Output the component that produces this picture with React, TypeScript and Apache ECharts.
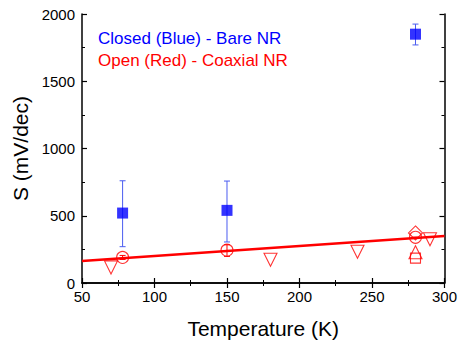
import React, { useEffect, useRef } from "react";
import * as echarts from "echarts";

const closedT = [78, 150, 280];
const closedS = [520, 540, 1850];
const closedLow = [270, 305, 1770];
const closedHigh = [760, 758, 1925];

const openCircleT = [78, 150, 280];
const openCircleS = [190, 244, 340];
const openCircleLow = [175, 198, 340];
const openCircleHigh = [205, 284, 340];
const openDownT = [70, 180, 240, 290];
const openDownS = [116, 173, 232, 325];
const openDiamondT = [280];
const openDiamondS = [372];
const openUpT = [280];
const openUpS = [229];
const openSquareT = [280];
const openSquareS = [185];

const fitT = [50, 300];
const fitS = [163, 350];

const BLUE = "#0000ff";
const RED = "#ff0000";
const DOWN = "path://M0,0 L10,0 L5,9 Z";
const FONT = "Liberation Sans, Arial, sans-serif";

const zip = (a: number[], b: number[]) => a.map((v, i) => [v, b[i]]);

function errSeries(t: number[], lo: number[], hi: number[], color: string, cap: number) {
  return {
    type: "custom",
    silent: true,
    z: 3,
    data: t.map((v, i) => [v, lo[i], hi[i]]),
    renderItem: (params: any, api: any) => {
      const x = api.value(0);
      const p1 = api.coord([x, api.value(1)]);
      const p2 = api.coord([x, api.value(2)]);
      const style = { stroke: color, lineWidth: 1 };
      return {
        type: "group",
        children: [
          { type: "line", shape: { x1: p1[0], y1: p1[1], x2: p2[0], y2: p2[1] }, style },
          { type: "line", shape: { x1: p1[0] - cap, y1: p1[1], x2: p1[0] + cap, y2: p1[1] }, style },
          { type: "line", shape: { x1: p2[0] - cap, y1: p2[1], x2: p2[0] + cap, y2: p2[1] }, style },
        ],
      };
    },
  };
}

function hollow(t: number[], s: number[], symbol: string, size: number) {
  return {
    type: "scatter",
    data: zip(t, s),
    symbol,
    symbolSize: size,
    z: 4,
    itemStyle: { color: "rgba(0,0,0,0)", borderColor: RED, borderWidth: 1.1 },
  };
}

export default function App() {
  const ref = useRef<HTMLDivElement>(null);
  useEffect(() => {
    const chart = echarts.init(ref.current!, undefined, { renderer: "svg" });
    const axisLine = { show: true, lineStyle: { color: "#000", width: 1.5 } };
    const tick = { show: true, inside: true, length: 5, lineStyle: { color: "#000", width: 1.2 } };
    const minor = { show: true, splitNumber: 2, length: 3, lineStyle: { color: "#000", width: 1 } };
    const lbl = { color: "#000", fontSize: 15, fontFamily: FONT, formatter: (v: number) => String(v) };
    chart.setOption({
      animation: false,
      backgroundColor: "#fff",
      grid: { left: 82, right: 13, top: 14, bottom: 60 },
      xAxis: [
        {
          type: "value", min: 50, max: 300, interval: 50,
          axisLine, axisTick: tick, minorTick: minor, splitLine: { show: false },
          axisLabel: { ...lbl, margin: 6 },
          name: "Temperature (K)", nameLocation: "middle", nameGap: 35,
          nameTextStyle: { color: "#000", fontSize: 21, fontFamily: FONT },
        },
        {
          type: "value", position: "top", min: 50, max: 300, interval: 50,
          axisLine, axisTick: tick, minorTick: minor, splitLine: { show: false },
          axisLabel: { show: false },
        },
      ],
      yAxis: [
        {
          type: "value", min: 0, max: 2000, interval: 500,
          axisLine, axisTick: tick, minorTick: minor, splitLine: { show: false },
          axisLabel: { ...lbl, margin: 7 },
          name: "S (mV/dec)", nameLocation: "middle", nameGap: 42,
          nameTextStyle: { color: "#000", fontSize: 21, fontFamily: FONT },
        },
        {
          type: "value", position: "right", min: 0, max: 2000, interval: 500,
          axisLine, axisTick: tick, minorTick: minor, splitLine: { show: false },
          axisLabel: { show: false },
        },
      ],
      graphic: [
        {
          type: "text", left: 98, top: 30,
          style: { text: "Closed (Blue) - Bare NR", fill: BLUE, fontSize: 17, fontFamily: FONT },
        },
        {
          type: "text", left: 98, top: 52,
          style: { text: "Open (Red) - Coaxial NR", fill: RED, fontSize: 17, fontFamily: FONT },
        },
      ],
      series: [
        {
          type: "line", data: zip(fitT, fitS), symbol: "none", z: 2,
          lineStyle: { color: RED, width: 2.5 },
        },
        errSeries(openCircleT, openCircleLow, openCircleHigh, RED, 3),
        hollow(openCircleT, openCircleS, "circle", 12),
        hollow(openDownT, openDownS, DOWN, 13),
        hollow(openDiamondT, openDiamondS, "diamond", 14),
        hollow(openUpT, openUpS, "triangle", 13),
        hollow(openSquareT, openSquareS, "rect", 10),
        errSeries(closedT, closedLow, closedHigh, "#4a5cf0", 3),
        {
          type: "scatter", data: zip(closedT, closedS), symbol: "rect", symbolSize: 11, z: 5,
          itemStyle: { color: BLUE },
        },
      ],
    });
    return () => chart.dispose();
  }, []);
  return <div ref={ref} style={{ position: "fixed", left: 0, top: 0, width: 460, height: 344 }} />;
}
